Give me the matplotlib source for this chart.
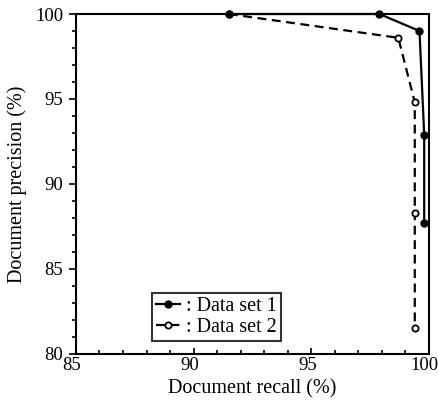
import matplotlib
matplotlib.use("Agg")
import matplotlib.pyplot as plt
from matplotlib.ticker import MultipleLocator
from matplotlib.transforms import ScaledTranslation

plt.rcParams['font.family'] = ['Liberation Serif', 'DejaVu Serif']

recall1 = [91.5, 97.9, 99.6, 99.8, 99.8]
precision1 = [100.0, 100.0, 99.0, 92.9, 87.7]
recall2 = [91.5, 98.7, 99.4, 99.4, 99.4]
precision2 = [100.0, 98.6, 94.8, 88.3, 81.5]
labels = [': Data set 1', ': Data set 2']

fig = plt.figure(figsize=(4.39, 4.12), dpi=100)
ax = fig.add_axes([0.173, 0.141, 0.804, 0.825])

ax.plot(recall2, precision2, linestyle=(0, (4, 2.5)), color='black', lw=1.6,
        marker='o', markersize=4.5, markerfacecolor='white', markeredgecolor='black',
        markeredgewidth=1.3, label=labels[1], clip_on=False, zorder=3)
ax.plot(recall1, precision1, linestyle='-', color='black', lw=1.6,
        marker='o', markersize=5, markerfacecolor='black', markeredgecolor='black',
        label=labels[0], clip_on=False, zorder=4)

ax.set_xlim(85, 100)
ax.set_ylim(80, 100)
ax.xaxis.set_major_locator(MultipleLocator(5))
ax.xaxis.set_minor_locator(MultipleLocator(1))
ax.yaxis.set_major_locator(MultipleLocator(5))
ax.yaxis.set_minor_locator(MultipleLocator(1))
ax.tick_params(axis='x', which='both', direction='in', length=3, width=1.2, labelsize=13.5, pad=2)
ax.tick_params(axis='y', which='both', direction='out', length=3, width=1.2, labelsize=13.5, pad=4)
ax.tick_params(axis='y', which='major', length=5)
ax.tick_params(axis='x', which='major', length=4)
for s in ax.spines.values():
    s.set_linewidth(1.5)

off = ScaledTranslation(-4 / 100, 0, fig.dpi_scale_trans)
for lab in ax.get_xticklabels():
    lab.set_transform(lab.get_transform() + off)

ax.set_xlabel('Document recall (%)', fontsize=14.5, labelpad=4)
ax.set_ylabel('Document precision (%)', fontsize=14.5, labelpad=6)

handles, labs = ax.get_legend_handles_labels()
leg = ax.legend(handles[::-1], labs[::-1], loc='upper left', bbox_to_anchor=(0.215, 0.18),
                fontsize=14.5, frameon=True, fancybox=False, edgecolor='black',
                handlelength=1.2, handletextpad=0.3, borderpad=0.2, labelspacing=0.1,
                borderaxespad=0)
leg.get_frame().set_linewidth(1.5)

fig.savefig('out.png', dpi=100)
